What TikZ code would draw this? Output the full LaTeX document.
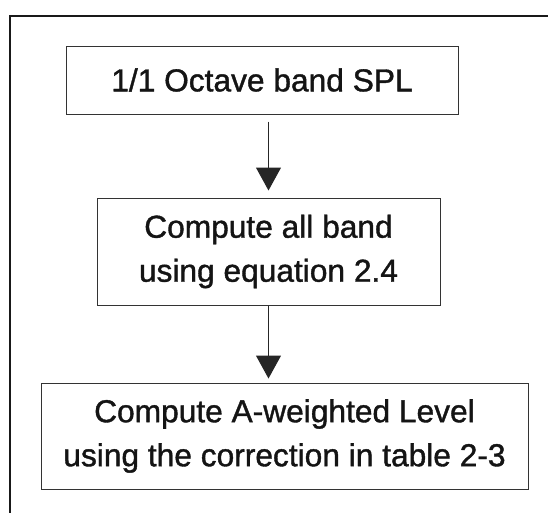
\documentclass[tikz,border=0pt]{standalone}
\usepackage{fontspec}
\setmainfont{Liberation Sans}[FakeBold=1.2]
\usetikzlibrary{arrows.meta}
\begin{document}
\begin{tikzpicture}[x=1pt,y=-1pt,
  stepbox/.style={draw=black!80, line width=1pt, inner sep=0pt, align=center,
    font=\fontsize{31.7}{44}\selectfont, text=black!92},
  flow/.style={draw=black!85, line width=1pt,
    -{Triangle[length=23pt,width=25pt]}},
  frame/.style={draw=black!90, line width=2pt}]
  \clip (0,0) rectangle (548,512);
  \fill[white] (0,0) rectangle (548,512);
  % outer border (runs past the right and bottom edges)
  \draw[frame] (10,16) rectangle (560,530);
  % process boxes
  \node[stepbox, minimum width=392pt, minimum height=68pt] (b1) at (262,80)
    {1/1 Octave band SPL};
  \node[stepbox, minimum width=343pt, minimum height=107pt] (b2) at (268.5,251.5)
    {Compute all band\\using equation 2.4};
  \node[stepbox, minimum width=487pt, minimum height=106pt] (b3) at (284.5,436)
    {Compute A-weighted Level\\using the correction in table 2-3};
  % connectors
  \draw[flow, shorten <=7pt, shorten >=7pt] (b1.south -| b2) -- (b2.north);
  \draw[flow, shorten >=4pt] (b2.south) -- (b3.north -| b2);
\end{tikzpicture}
\end{document}
